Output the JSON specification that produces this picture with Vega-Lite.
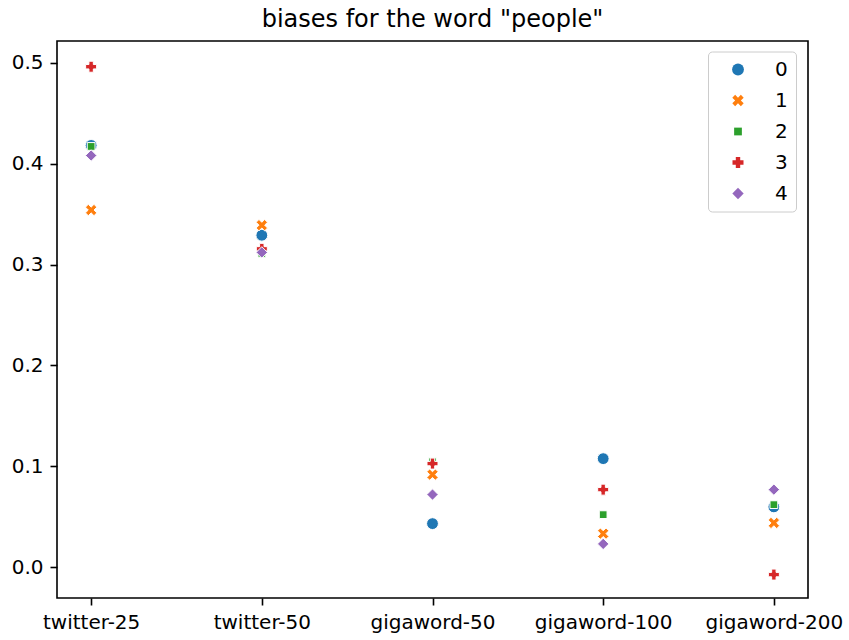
{
  "$schema": "https://vega.github.io/schema/vega-lite/v6.json",
  "width": 751,
  "height": 557,
  "autosize": {"type": "none"},
  "padding": {"left": 57, "top": 41, "right": 41, "bottom": 42},
  "background": "white",
  "title": {
    "text": "biases for the word \"people\"",
    "fontSize": 24,
    "font": "DejaVu Sans",
    "fontWeight": "normal",
    "color": "black",
    "anchor": "middle",
    "baseline": "alphabetic",
    "offset": 14,
    "dy": 24
  },
  "config": {
    "view": {"stroke": "black", "strokeWidth": 1.6},
    "axis": {
      "labelFont": "DejaVu Sans",
      "labelFontSize": 20,
      "labelColor": "black",
      "tickColor": "black",
      "tickWidth": 1.6,
      "tickSize": 7,
      "labelPadding": 7,
      "domain": false,
      "grid": false,
      "title": null
    },
    "legend": {
      "orient": "none",
      "legendX": 651,
      "legendY": 10.5,
      "padding": 8,
      "rowPadding": 11,
      "symbolOffset": 12,
      "labelOffset": 27,
      "labelFont": "DejaVu Sans",
      "labelFontSize": 20,
      "labelColor": "black",
      "strokeColor": "#cccccc",
      "cornerRadius": 4,
      "fillColor": "rgba(255,255,255,0.8)",
      "symbolStrokeColor": "white",
      "symbolStrokeWidth": 1,
      "symbolOpacity": 1
    }
  },
  "data": {
    "values": [
      {"embedding": "twitter-25", "run": "0", "bias": 0.418},
      {"embedding": "twitter-25", "run": "1", "bias": 0.354},
      {"embedding": "twitter-25", "run": "2", "bias": 0.417},
      {"embedding": "twitter-25", "run": "3", "bias": 0.496},
      {"embedding": "twitter-25", "run": "4", "bias": 0.408},
      {"embedding": "twitter-50", "run": "0", "bias": 0.329},
      {"embedding": "twitter-50", "run": "1", "bias": 0.339},
      {"embedding": "twitter-50", "run": "2", "bias": 0.311},
      {"embedding": "twitter-50", "run": "3", "bias": 0.3155},
      {"embedding": "twitter-50", "run": "4", "bias": 0.312},
      {"embedding": "gigaword-50", "run": "0", "bias": 0.0432},
      {"embedding": "gigaword-50", "run": "1", "bias": 0.0918},
      {"embedding": "gigaword-50", "run": "2", "bias": 0.1045},
      {"embedding": "gigaword-50", "run": "3", "bias": 0.1027},
      {"embedding": "gigaword-50", "run": "4", "bias": 0.072},
      {"embedding": "gigaword-100", "run": "0", "bias": 0.1076},
      {"embedding": "gigaword-100", "run": "1", "bias": 0.0333},
      {"embedding": "gigaword-100", "run": "2", "bias": 0.0521},
      {"embedding": "gigaword-100", "run": "3", "bias": 0.0769},
      {"embedding": "gigaword-100", "run": "4", "bias": 0.0231},
      {"embedding": "gigaword-200", "run": "0", "bias": 0.0598},
      {"embedding": "gigaword-200", "run": "1", "bias": 0.0439},
      {"embedding": "gigaword-200", "run": "2", "bias": 0.062},
      {"embedding": "gigaword-200", "run": "3", "bias": -0.0073},
      {"embedding": "gigaword-200", "run": "4", "bias": 0.0769}
    ]
  },
  "mark": {"type": "point", "filled": true, "opacity": 1, "stroke": "white", "strokeWidth": 1},
  "encoding": {
    "x": {
      "field": "embedding",
      "type": "nominal",
      "sort": null,
      "scale": {"type": "point", "padding": 0.2},
      "axis": {"labelAngle": 0}
    },
    "y": {
      "field": "bias",
      "type": "quantitative",
      "scale": {"domain": [-0.0305, 0.5215], "nice": false, "zero": false},
      "axis": {"values": [0, 0.1, 0.2, 0.3, 0.4, 0.5], "format": ".1f"}
    },
    "color": {
      "field": "run",
      "type": "nominal",
      "title": null,
      "scale": {"domain": ["0", "1", "2", "3", "4"], "range": ["#1f77b4", "#ff7f0e", "#2ca02c", "#d62728", "#9467bd"]}
    },
    "shape": {
      "field": "run",
      "type": "nominal",
      "title": null,
      "scale": {"domain": ["0", "1", "2", "3", "4"], "range": ["circle", "M-1,-0.5L-0.5,-1L0,-0.5L0.5,-1L1,-0.5L0.5,0L1,0.5L0.5,1L0,0.5L-0.5,1L-1,0.5L-0.5,0Z", "square", "cross", "diamond"]}
    },
    "size": {
      "field": "run",
      "type": "nominal",
      "title": null,
      "scale": {"type": "ordinal", "domain": ["0", "1", "2", "3", "4"], "range": [140, 130, 60, 121, 130]}
    }
  }
}
